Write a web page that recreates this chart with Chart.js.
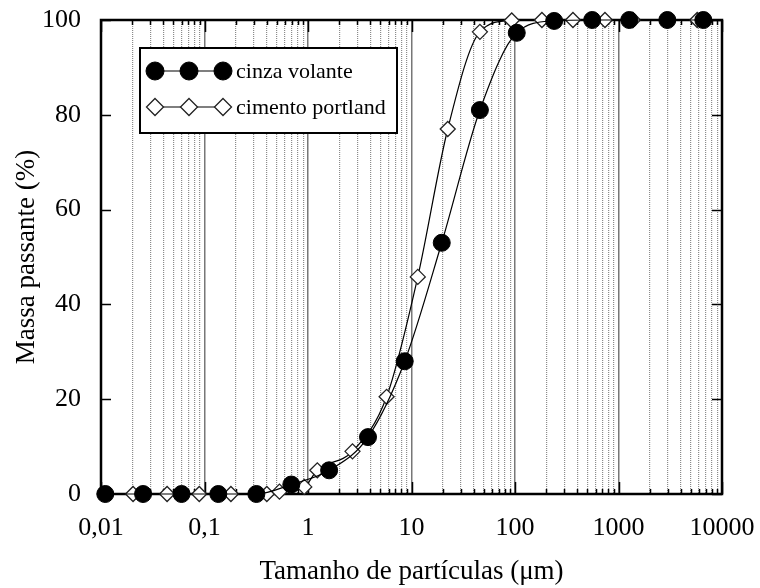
<!DOCTYPE html>
<html><head><meta charset="utf-8">
<script src="https://cdn.jsdelivr.net/npm/chart.js@4/dist/chart.umd.min.js"></script>
<style>html,body{margin:0;padding:0;background:#fff}#wrap{width:760px;height:588px}</style>
</head><body><div id="wrap"><canvas id="c" width="760" height="588"></canvas></div>
<script>
// ---- data ----
const seriesNames = ['cinza volante', 'cimento portland'];
const cinzaX = [0.011, 0.0255, 0.06, 0.136, 0.317, 0.69, 1.6, 3.8, 8.6, 19.6, 45.8, 104, 239, 557, 1270, 2963, 6600];
const cinzaY = [0, 0, 0, 0, 0, 2, 5, 12, 28, 53, 81, 97.3, 99.8, 100, 100, 100, 100];
const cimentoX = [0.0204, 0.0435, 0.089, 0.18, 0.40, 0.53, 0.92, 1.23, 2.69, 5.75, 11.5, 22.4, 45.8, 93, 182, 363, 740, 1380, 5760];
const cimentoY = [0, 0, 0, 0, 0, 0.5, 1.5, 5, 9, 20.5, 45.8, 77, 97.5, 99.9, 100, 100, 100, 100, 100];
const xDecades = [0.01, 0.1, 1, 10, 100, 1000, 10000];
const xDecadeLabels = ['0,01', '0,1', '1', '10', '100', '1000', '10000'];
const yTicks = [0, 20, 40, 60, 80, 100];
const xTitle = 'Tamanho de partículas (μm)';
const yTitle = 'Massa passante (%)';

const FONT = "'Liberation Serif', 'Times New Roman', serif";
const isDecade = v => Math.abs(Math.log10(v) - Math.round(Math.log10(v))) < 1e-9;

function pts(xs, ys) { return xs.map((x, i) => ({ x: x, y: ys[i] })); }

const framePlugin = {
  id: 'frame',
  beforeDatasetsDraw(chart) {
    const { ctx, chartArea: { left, right, top, bottom }, scales: { x, y } } = chart;
    ctx.save();
    ctx.strokeStyle = '#000';
    ctx.lineWidth = 1.5;
    ctx.beginPath();
    x.ticks.forEach(t => {
      const px = Math.round(x.getPixelForValue(t.value)) + 0.5;
      const len = isDecade(t.value) ? 12 : 5;
      ctx.moveTo(px, bottom); ctx.lineTo(px, bottom - len);
      ctx.moveTo(px, top); ctx.lineTo(px, top + len);
    });
    y.ticks.forEach(t => {
      const py = Math.round(y.getPixelForValue(t.value)) + 0.5;
      ctx.moveTo(left, py); ctx.lineTo(left + 10, py);
      ctx.moveTo(right, py); ctx.lineTo(right - 10, py);
    });
    ctx.stroke();
    ctx.lineWidth = 2.5;
    ctx.strokeRect(left, top, right - left, bottom - top);
    ctx.restore();
  }
};

function drawMarker(ctx, style, x, y, r, fill, stroke, bw) {
  ctx.beginPath();
  if (style === 'circle') {
    ctx.arc(x, y, r, 0, Math.PI * 2);
  } else {
    ctx.moveTo(x, y - r); ctx.lineTo(x + r, y); ctx.lineTo(x, y + r); ctx.lineTo(x - r, y); ctx.closePath();
  }
  ctx.fillStyle = fill; ctx.fill();
  ctx.lineWidth = bw; ctx.strokeStyle = stroke; ctx.stroke();
}

const legendPlugin = {
  id: 'customLegend',
  afterDatasetsDraw(chart) {
    const ctx = chart.ctx;
    ctx.save();
    ctx.fillStyle = '#fff';
    ctx.fillRect(140, 48, 257, 85);
    ctx.strokeStyle = '#000';
    ctx.lineWidth = 2;
    ctx.strokeRect(140, 48, 257, 85);
    const rows = [71, 107];
    chart.data.datasets.forEach((ds, i) => {
      const yy = rows[i];
      ctx.beginPath();
      ctx.moveTo(155, yy); ctx.lineTo(223, yy);
      ctx.strokeStyle = '#000'; ctx.lineWidth = 1.2; ctx.stroke();
      [155, 189, 223].forEach(xx => drawMarker(ctx, ds.pointStyle, xx, yy, ds.pointStyle === 'circle' ? 9 : 8.5,
        ds.pointBackgroundColor, ds.pointBorderColor, ds.pointBorderWidth));
      ctx.fillStyle = '#000';
      ctx.font = '22px ' + FONT;
      ctx.textBaseline = 'middle';
      ctx.textAlign = 'left';
      ctx.fillText(ds.label, 236, yy + 1);
    });
    ctx.restore();
  }
};

new Chart(document.getElementById('c'), {
  type: 'line',
  data: {
    datasets: [
      {
        label: seriesNames[0], data: pts(cinzaX, cinzaY),
        borderColor: '#000', borderWidth: 1.2, pointStyle: 'circle', pointRadius: 8.5,
        pointBackgroundColor: '#000', pointBorderColor: '#000', pointBorderWidth: 1,
        cubicInterpolationMode: 'monotone', clip: false, fill: false
      },
      {
        label: seriesNames[1], data: pts(cimentoX, cimentoY),
        borderColor: '#000', borderWidth: 1.2, pointStyle: 'rectRot', pointRadius: 7.5,
        pointBackgroundColor: '#fff', pointBorderColor: '#222', pointBorderWidth: 1.3,
        cubicInterpolationMode: 'monotone', clip: false, fill: false
      }
    ]
  },
  options: {
    responsive: false, animation: false, devicePixelRatio: 1,
    layout: { padding: { left: 0, top: 20, right: 38, bottom: 0 } },
    plugins: { legend: { display: false }, tooltip: { enabled: false } },
    scales: {
      x: {
        type: 'logarithmic', min: xDecades[0], max: xDecades[xDecades.length - 1],
        afterBuildTicks(scale) {
          const t = [];
          for (let d = 0; d < xDecades.length; d++) {
            const base = xDecades[d];
            for (let m = 1; m <= 9; m++) {
              if (d === xDecades.length - 1 && m > 1) break;
              t.push({ value: +(base * m).toPrecision(6) });
            }
          }
          scale.ticks = t;
        },
        afterFit(scale) { scale.height = 94; scale.paddingLeft = 0; scale.paddingRight = 0; },
        ticks: {
          autoSkip: false, maxRotation: 0, minRotation: 0, padding: 19,
          font: { family: FONT, size: 26 }, color: '#000',
          callback(v) {
            const idx = xDecades.findIndex(d => Math.abs(d - v) / d < 1e-6);
            return idx >= 0 ? xDecadeLabels[idx] : '';
          }
        },
        grid: {
          drawTicks: false,
          color: c => (c.tick && isDecade(c.tick.value)) ? '#777' : '#8c8c8c',
          lineWidth: c => (c.tick && isDecade(c.tick.value)) ? 1.5 : 1.2
        },
        border: { display: false, dash: c => (c.tick && isDecade(c.tick.value)) ? [] : [1, 1] },
        title: { display: true, text: xTitle, color: '#000', font: { family: FONT, size: 27 }, padding: { top: 0, bottom: 0 } }
      },
      y: {
        type: 'linear', min: 0, max: 100,
        afterBuildTicks(scale) { scale.ticks = yTicks.map(v => ({ value: v })); },
        afterFit(scale) { scale.width = 101; scale.paddingTop = 0; scale.paddingBottom = 0; },
        ticks: { padding: 20, font: { family: FONT, size: 26 }, color: '#000' },
        grid: { display: false, drawTicks: false },
        border: { display: false },
        title: { display: true, text: yTitle, color: '#000', font: { family: FONT, size: 27 }, padding: { top: 11, bottom: 0 } }
      }
    }
  },
  plugins: [framePlugin, legendPlugin]
});
</script>
</body></html>
